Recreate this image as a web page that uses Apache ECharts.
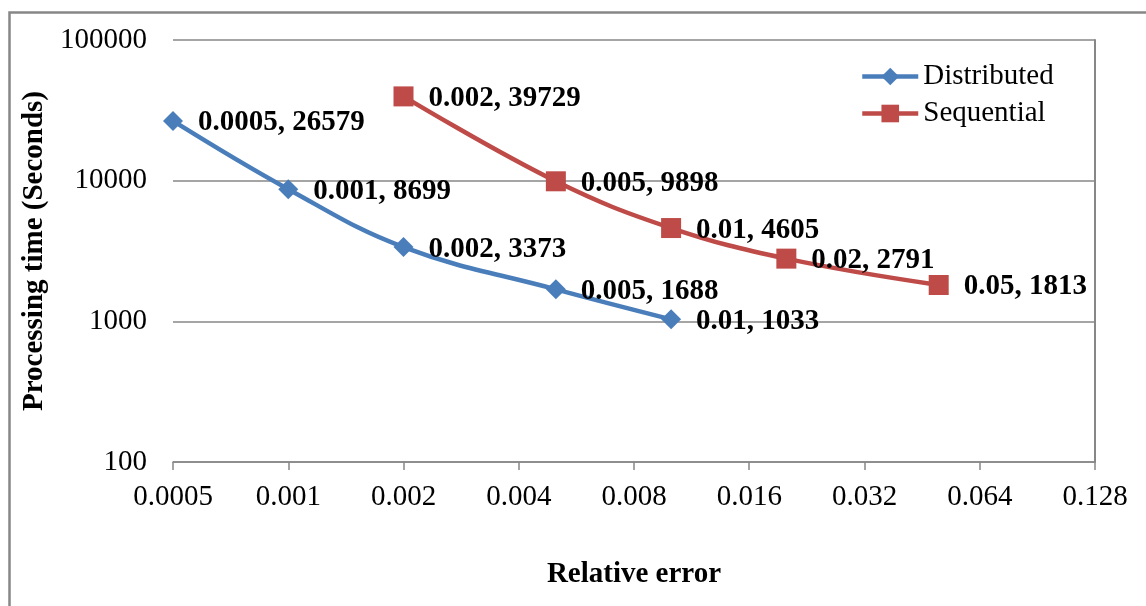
<!DOCTYPE html>
<html><head><meta charset="utf-8">
<script src="https://cdn.jsdelivr.net/npm/echarts@6/dist/echarts.min.js"></script>
<style>html,body{margin:0;padding:0;background:#fff}#c{width:1146px;height:606px}</style>
</head><body><div id="c"></div>
<script>
const xTicks = [0.0005, 0.001, 0.002, 0.004, 0.008, 0.016, 0.032, 0.064, 0.128];
const yTicks = [100, 1000, 10000, 100000];
const distX = [0.0005, 0.001, 0.002, 0.005, 0.01];
const distY = [26579, 8699, 3373, 1688, 1033];
const seqX = [0.002, 0.005, 0.01, 0.02, 0.05];
const seqY = [39729, 9898, 4605, 2791, 1813];

const FONT = 'Liberation Serif, Times New Roman, serif';
const GREY = '#878787';
const BLUE = '#4A7EBB';
const RED = '#BE4B48';

const pair = (xs, ys) => xs.map((x, i) => [x, ys[i]]);

const chart = echarts.init(document.getElementById('c'), null, {renderer: 'canvas'});
const labelCfg = {
  show: true, position: 'right', distance: 15, offset: [0, 2],
  fontFamily: FONT, fontSize: 29, fontWeight: 'bold', color: '#000',
  formatter: p => p.value[0] + ', ' + p.value[1]
};
chart.setOption({
  animation: false,
  backgroundColor: '#fff',
  textStyle: {fontFamily: FONT},
  graphic: [{
    type: 'rect', left: 7, top: 10, silent: true,
    shape: {width: 1300, height: 800},
    style: {fill: 'none', stroke: GREY, lineWidth: 2.5}
  }],
  grid: {left: 173, right: 51, top: 40, bottom: 144, containLabel: false},
  legend: {
    orient: 'vertical', left: 855, top: 57, itemWidth: 56, itemHeight: 22, itemGap: 8,
    textStyle: {fontFamily: FONT, fontSize: 29, color: '#000'},
    data: [
      {name: 'Distributed', lineStyle: {width: 4.5}},
      {name: 'Sequential', lineStyle: {width: 4.5}}
    ]
  },
  xAxis: {
    type: 'log', logBase: 2, min: xTicks[0], max: xTicks[xTicks.length - 1],
    name: 'Relative error', nameLocation: 'middle', nameGap: 98,
    nameTextStyle: {fontFamily: FONT, fontSize: 29, fontWeight: 'bold', color: '#000'},
    axisLine: {show: true, lineStyle: {color: GREY, width: 1.5}},
    axisTick: {show: true, length: 8, lineStyle: {color: GREY, width: 1.5}, customValues: xTicks},
    axisLabel: {
      customValues: xTicks, margin: 21, fontFamily: FONT, fontSize: 29, color: '#000',
      formatter: v => String(+Number(v).toPrecision(4))
    },
    splitLine: {show: false}
  },
  yAxis: [{
    type: 'log', logBase: 10, min: yTicks[0], max: yTicks[yTicks.length - 1],
    name: 'Processing time (Seconds)', nameLocation: 'middle', nameGap: 122,
    nameTextStyle: {fontFamily: FONT, fontSize: 29, fontWeight: 'bold', color: '#000'},
    axisLine: {show: false}, axisTick: {show: false},
    axisLabel: {margin: 26, fontFamily: FONT, fontSize: 29, color: '#000',
      formatter: v => String(Math.round(v))},
    splitLine: {show: true, lineStyle: {color: GREY, width: 1.5}}
  }, {
    type: 'log', logBase: 10, min: yTicks[0], max: yTicks[yTicks.length - 1], position: 'right',
    axisLine: {show: true, lineStyle: {color: GREY, width: 2}}, axisTick: {show: false},
    axisLabel: {show: false}, splitLine: {show: false}
  }],
  series: [{
    name: 'Distributed', type: 'line', data: pair(distX, distY), smooth: 0.4,
    symbol: 'diamond', symbolSize: 20, showAllSymbol: true,
    lineStyle: {color: BLUE, width: 4.5}, itemStyle: {color: BLUE},
    label: labelCfg
  }, {
    name: 'Sequential', type: 'line', data: pair(seqX, seqY), smooth: 0.4,
    symbol: 'rect', symbolSize: 20, showAllSymbol: true,
    lineStyle: {color: RED, width: 4.5}, itemStyle: {color: RED},
    label: labelCfg
  }]
});
</script></body></html>
